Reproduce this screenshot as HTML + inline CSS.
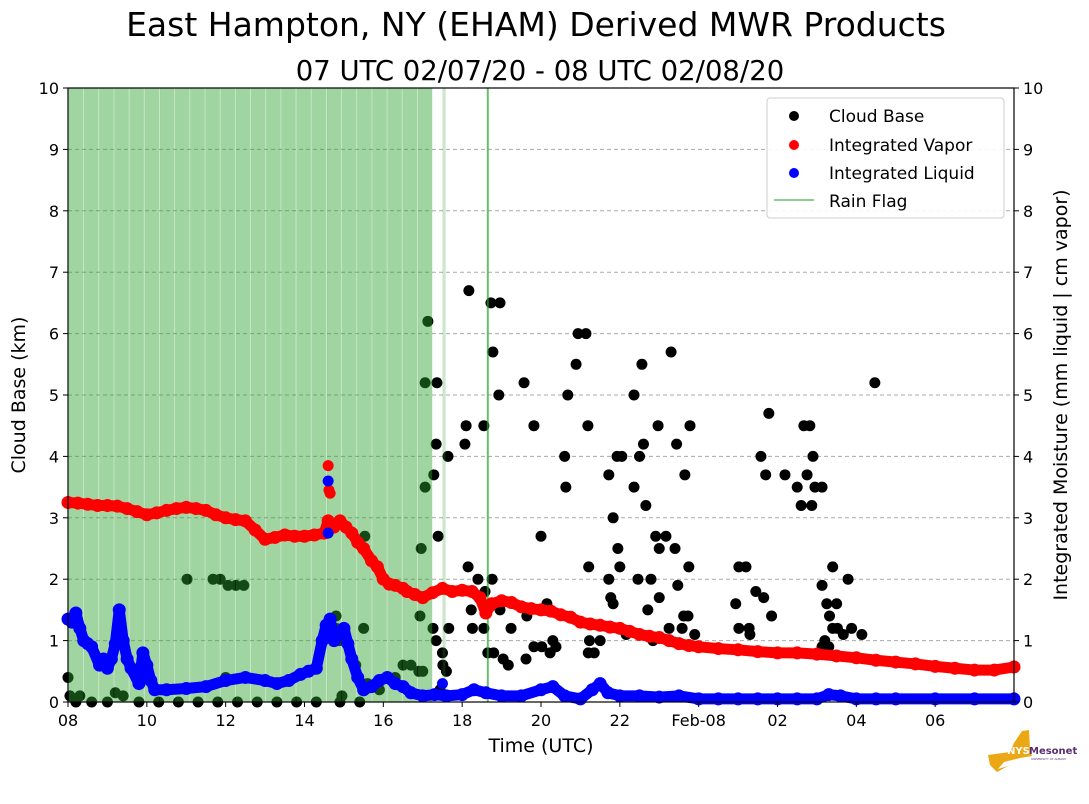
<!DOCTYPE html>
<html><head><meta charset="utf-8"><style>
body{margin:0;background:#fff;width:1089px;height:804px;overflow:hidden;font-family:"Liberation Sans","DejaVu Sans",sans-serif}
svg{display:block}
text{font-family:"DejaVu Sans","Liberation Sans",sans-serif}
</style></head><body>
<svg id="chart" width="1089" height="804" viewBox="0 0 1089 804" xmlns="http://www.w3.org/2000/svg">
<text x="536" y="36" font-size="33" text-anchor="middle" fill="#000">East Hampton, NY (EHAM) Derived MWR Products</text>
<text x="540" y="80" font-size="27.5" text-anchor="middle" fill="#000">07 UTC 02/07/20 - 08 UTC 02/08/20</text>
<g id="grid"></g>
<g id="cloud"></g>
<g id="rain"></g>
<g id="vapor"></g>
<g id="liquid"></g>
<g id="axes"></g>
<text x="541" y="752" font-size="19" text-anchor="middle">Time (UTC)</text>
<text transform="translate(25,395) rotate(-90)" font-size="19" text-anchor="middle">Cloud Base (km)</text>
<text transform="translate(1067,395) rotate(-90)" font-size="19" text-anchor="middle">Integrated Moisture (mm liquid | cm vapor)</text>
<g>
<rect x="767" y="98" width="237" height="120" rx="3" fill="#fff" fill-opacity="0.9" stroke="#ccc"/>
<g><circle cx="794" cy="116" r="5" fill="#000"/><text x="829" y="122" font-size="17">Cloud Base</text></g>
<g><circle cx="794" cy="145" r="5" fill="red"/><text x="829" y="151" font-size="17">Integrated Vapor</text></g>
<g><circle cx="794" cy="173" r="5" fill="blue"/><text x="829" y="179" font-size="17">Integrated Liquid</text></g>
<g><line x1="774" y1="200" x2="814" y2="200" stroke="#2ca02c" stroke-opacity="0.7" stroke-width="1.5"/><text x="829" y="207" font-size="17">Rain Flag</text></g>
</g>
<g>
<path d="M988 755 L1010 752 L1014 743 L1022 731 L1029 730 L1030 750 L1032 756 L1020 758 L1004 762 L998 769 L1008 766 L997 772 L990 765 Z" fill="#eba714"/>
<text x="1007" y="754" font-size="10" font-weight="bold" fill="#fff">NYS</text>
<text x="1029" y="754" font-size="10" font-weight="bold" fill="#5a2d6e">Mesonet</text>
<text x="1031" y="760" font-size="3" fill="#5a2d6e">UNIVERSITY AT ALBANY</text>
</g>
</svg>
<script>
const cloudHours=[18.17,17.13,18.73,18.96,18.78,18.93,17.06,17.36,19.57,20.94,21.14,20.89,22.56,22.36,20.68,23.3,18.1,18.55,19.82,21.19,22.97,23.78,25.78,28.47,17.34,18.07,17.64,17.28,17.06,20.6,21.93,22.05,22.5,22.6,23.44,21.72,23.65,25.7,25.58,26.19,26.5,26.75,26.9,26.67,26.82,26.95,27.13,26.6,26.87,20.63,22.36,22.66,21.83,17.39,20.0,22.91,23.17,23.0,23.4,21.95,16.96,15.53,18.15,21.21,22.0,23.75,25.02,25.2,11.02,11.68,11.86,12.06,12.26,12.46,18.4,18.76,21.72,22.46,22.79,27.79,18.58,25.45,25.65,23.47,21.77,23.0,27.13,18.23,18.96,24.94,27.25,27.5,27.4,20.15,21.83,22.71,25.85,23.62,23.73,27.32,16.93,19.64,18.26,19.24,18.55,17.66,17.26,14.8,15.5,23.25,23.58,23.9,25.02,25.28,25.3,27.52,27.67,27.88,28.14,27.4,21.23,21.5,22.16,22.84,27.2,20.3,17.34,14.8,14.88,21.35,21.2,19.82,20.02,20.23,20.38,18.65,18.8,19.62,19.04,19.17,17.51,17.6,17.5,17.44,27.13,27.3,15.6,14.95,15.3,16.5,16.7,16.9,17.0,16.3,15.9,8.0,8.3,8.6,9.0,9.4,9.8,10.3,10.8,11.3,11.8,12.3,12.8,13.3,13.8,14.3,14.9,15.4,8.2,9.2,8.05,12.0];
const cloudKm=[6.7,6.2,6.5,6.5,5.7,5.0,5.2,5.2,5.2,6.0,6.0,5.5,5.5,5.0,5.0,5.7,4.5,4.5,4.5,4.5,4.5,4.5,4.7,5.2,4.2,4.2,4.0,3.7,3.5,4.0,4.0,4.0,4.0,4.2,4.2,3.7,3.7,3.7,4.0,3.7,3.5,3.7,4.0,4.5,4.5,3.5,3.5,3.2,3.2,3.5,3.5,3.2,3.0,2.7,2.7,2.7,2.7,2.5,2.5,2.5,2.5,2.7,2.2,2.2,2.2,2.2,2.2,2.2,2.0,2.0,2.0,1.9,1.9,1.9,2.0,2.0,2.0,2.0,2.0,2.0,1.8,1.8,1.7,1.9,1.7,1.7,1.9,1.5,1.5,1.6,1.6,1.6,2.2,1.6,1.6,1.5,1.4,1.4,1.4,1.4,1.4,1.4,1.2,1.2,1.2,1.2,1.2,1.2,1.2,1.2,1.2,1.1,1.2,1.2,1.1,1.2,1.1,1.2,1.1,1.2,1.0,1.0,1.1,1.0,1.0,1.0,1.0,1.4,1.0,0.8,0.8,0.9,0.9,0.8,0.9,0.8,0.8,0.7,0.7,0.6,0.6,0.5,0.8,0.2,0.9,0.9,0.3,0.1,0.6,0.6,0.6,0.5,0.5,0.4,0.2,0.4,0.1,0.0,0.0,0.1,0.0,0.0,0.0,0.0,0.0,0.0,0.0,0.0,0.0,0.0,0.0,0.0,0.0,0.15,0.1,0.4,0.0];
const vaporHours=[8,8.25,8.5,8.75,9,9.25,9.5,9.75,10,10.25,10.5,10.75,11,11.25,11.5,11.75,12,12.25,12.5,12.75,13,13.25,13.5,13.75,14,14.25,14.5,14.6,14.75,14.9,15.05,15.2,15.35,15.5,15.7,15.85,16,16.15,16.3,16.5,16.6,16.8,17,17.25,17.5,17.75,18,18.25,18.45,18.6,18.75,19,19.25,19.5,19.75,20,20.25,20.5,20.75,21,21.25,21.5,21.75,22,22.25,22.5,22.75,23,23.25,23.5,23.75,24,24.5,25,25.5,26,26.5,27,27.5,28,28.5,29,29.5,30,30.5,31,31.5,32];
const vaporVals=[3.25,3.24,3.22,3.2,3.2,3.19,3.15,3.1,3.05,3.08,3.12,3.15,3.17,3.15,3.12,3.05,3.0,2.97,2.95,2.8,2.65,2.68,2.72,2.7,2.7,2.72,2.75,2.95,2.85,2.95,2.85,2.75,2.6,2.5,2.3,2.2,2.0,1.92,1.9,1.85,1.8,1.75,1.7,1.78,1.85,1.8,1.82,1.8,1.7,1.45,1.6,1.65,1.62,1.55,1.52,1.5,1.48,1.42,1.38,1.3,1.27,1.25,1.22,1.2,1.15,1.1,1.07,1.05,1.0,0.95,0.92,0.9,0.87,0.85,0.82,0.8,0.8,0.78,0.75,0.72,0.68,0.65,0.62,0.58,0.55,0.52,0.52,0.57];
const vaporOutHours=[14.6,14.62,14.65];
const vaporOutVals=[3.85,3.45,3.4];
const liquidHours=[8,8.1,8.2,8.3,8.4,8.5,8.6,8.8,8.9,9,9.1,9.2,9.3,9.4,9.5,9.6,9.8,9.9,10,10.1,10.2,10.5,11,11.5,12,12.5,13,13.3,13.6,13.9,14.1,14.3,14.45,14.55,14.65,14.75,14.85,15,15.1,15.2,15.35,15.5,15.7,15.9,16.1,16.3,16.5,16.7,17,17.3,17.6,18,18.3,18.6,19,19.5,20,20.3,20.6,21,21.3,21.5,21.7,22,22.5,23,23.5,24,24.5,25,25.5,26,26.5,27,27.3,27.6,28,28.5,29,30,31,32];
const liquidVals=[1.35,1.3,1.45,1.2,1.0,0.95,0.9,0.6,0.7,0.55,0.7,0.95,1.5,1.0,0.7,0.55,0.3,0.8,0.6,0.35,0.2,0.2,0.22,0.25,0.35,0.4,0.35,0.3,0.35,0.45,0.5,0.55,1.0,1.25,1.35,1.0,1.1,1.2,0.95,0.7,0.4,0.2,0.25,0.35,0.4,0.3,0.25,0.15,0.1,0.12,0.1,0.12,0.2,0.15,0.1,0.1,0.2,0.25,0.1,0.05,0.2,0.3,0.15,0.1,0.1,0.08,0.1,0.05,0.05,0.05,0.05,0.05,0.05,0.05,0.12,0.1,0.05,0.05,0.05,0.05,0.05,0.05];
const liquidOutHours=[14.6,14.6,17.5];
const liquidOutVals=[3.6,2.75,0.3];
const rainStart=8.0, rainEnd=17.25, rainBarHours=0.385;
const rainFaint=[17.5,17.58];
const rainLineHour=18.65;
const xTickHours=[8,10,12,14,16,18,20,22,24,26,28,30];
const xTickLabels=['08','10','12','14','16','18','20','22','Feb-08','02','04','06'];
const yTicks=[0,1,2,3,4,5,6,7,8,9,10];

const L=68,R=1014,T=88,B=702;
const X=h=>L+(h-8)*(R-L)/24;
const Y=v=>B-v*(B-T)/10;
const NS='http://www.w3.org/2000/svg';
function mk(tag,attrs,parent){const e=document.createElementNS(NS,tag);for(const k in attrs)e.setAttribute(k,attrs[k]);parent.appendChild(e);return e;}
const g=id=>document.getElementById(id);

yTicks.forEach(v=>{if(v===0||v===10)return;
 const l=mk('line',{x1:L,x2:R,y1:Y(v),y2:Y(v),stroke:'#aaa','stroke-dasharray':'4,3','stroke-width':1},g('grid'));
 
 
});
cloudHours.forEach((h,i)=>{
 const c=mk('circle',{cx:X(h),cy:Y(cloudKm[i]),r:5.5,fill:'#000'},g('cloud'));
 
 
});
for(let h=rainStart;h<rainEnd-0.01;h+=rainBarHours){
 const x1=X(h),x2=X(Math.min(h+rainBarHours,rainEnd));
 const r=mk('rect',{x:x1+1,y:T,width:Math.max(0,x2-x1-1),height:B-T,fill:'#2ca02c','fill-opacity':0.45},g('rain'));
 
 
 const s=mk('rect',{x:x1,y:T,width:1.2,height:B-T,fill:'#2ca02c','fill-opacity':0.25},g('rain'));
 
 
}
{const r=mk('rect',{x:X(rainFaint[0]),y:T,width:X(rainFaint[1])-X(rainFaint[0]),height:B-T,fill:'#2ca02c','fill-opacity':0.25},g('rain'));
 
 
 const l=mk('line',{x1:X(rainLineHour),x2:X(rainLineHour),y1:T,y2:B,stroke:'#2ca02c','stroke-opacity':0.7,'stroke-width':2},g('rain'));
 
 }
function series(hours,vals,color,grp,name){
 const p=mk('polyline',{points:hours.map((h,i)=>X(h)+','+Y(vals[i])).join(' '),fill:'none',stroke:color,'stroke-width':11,'stroke-linecap':'round','stroke-linejoin':'round'},g(grp));
 
 
 hours.forEach((h,i)=>{const c=mk('circle',{cx:X(h),cy:Y(vals[i]),r:6.5,fill:color},g(grp));
  
  });
}
series(vaporHours,vaporVals,'red','vapor','vapor');
series(liquidHours,liquidVals,'blue','liquid','liquid');
vaporOutHours.forEach((h,i)=>{const c=mk('circle',{cx:X(h),cy:Y(vaporOutVals[i]),r:5.5,fill:'red'},g('vapor'));
 
 });
liquidOutHours.forEach((h,i)=>{const c=mk('circle',{cx:X(h),cy:Y(liquidOutVals[i]),r:5.5,fill:'blue'},g('liquid'));
 
 });

const ax=g('axes');
{const f=mk('rect',{x:L,y:T,width:R-L,height:B-T,fill:'none',stroke:'#000','stroke-width':1.2},ax);
 
 }
yTicks.forEach(v=>{
 mk('line',{x1:L-5,x2:L,y1:Y(v),y2:Y(v),stroke:'#000'},ax);
 mk('line',{x1:R,x2:R+5,y1:Y(v),y2:Y(v),stroke:'#000'},ax);
 const t1=mk('text',{x:L-9,y:Y(v)+6,'font-size':16,'text-anchor':'end'},ax);t1.textContent=v;
 
 
 const t2=mk('text',{x:R+9,y:Y(v)+6,'font-size':16},ax);t2.textContent=v;
 
 
});
xTickHours.forEach((h,i)=>{
 mk('line',{x1:X(h),x2:X(h),y1:B,y2:B+5,stroke:'#000'},ax);
 const t=mk('text',{x:X(h),y:B+24,'font-size':16,'text-anchor':'middle'},ax);t.textContent=xTickLabels[i];
 
 
});
</script>
</body></html>
